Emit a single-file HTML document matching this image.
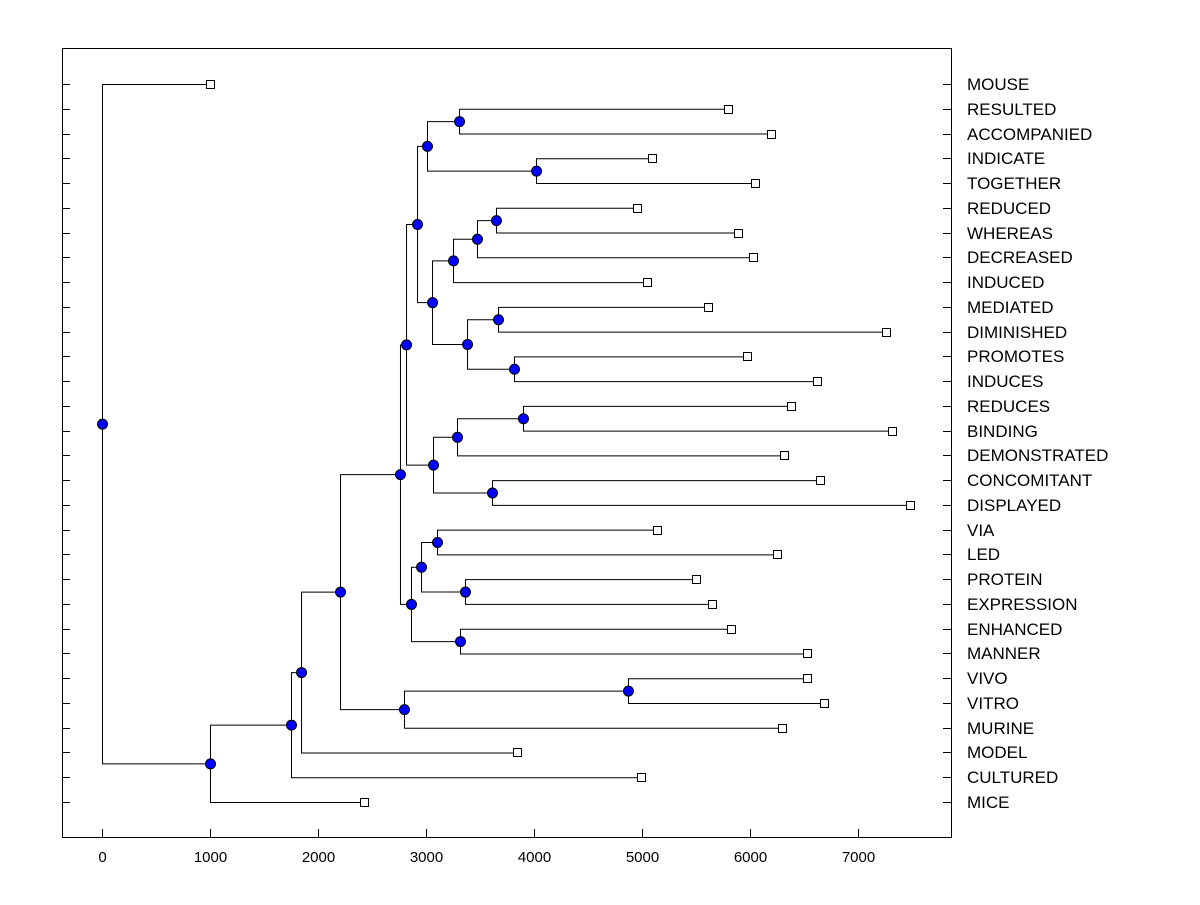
<!DOCTYPE html>
<html><head><meta charset="utf-8"><style>
body{margin:0;background:#fff}
svg text{font-family:"Liberation Sans",Arial,sans-serif;fill:#000}
</style></head><body>
<svg id="chart" width="1200" height="900" xmlns="http://www.w3.org/2000/svg">
<rect x="62.5" y="48.5" width="889" height="789" fill="none" stroke="#000"/>
<g id="g"></g>
</svg>
<script>
const leafNames = ["MOUSE","RESULTED","ACCOMPANIED","INDICATE","TOGETHER","REDUCED","WHEREAS","DECREASED","INDUCED","MEDIATED","DIMINISHED","PROMOTES","INDUCES","REDUCES","BINDING","DEMONSTRATED","CONCOMITANT","DISPLAYED","VIA","LED","PROTEIN","EXPRESSION","ENHANCED","MANNER","VIVO","VITRO","MURINE","MODEL","CULTURED","MICE"];
const leafValues = [1000,5796,6194,5093,6046,4954,5889,6028,5046,5611,7259,5972,6620,6380,7315,6315,6648,7481,5139,6250,5500,5648,5824,6528,6528,6685,6296,3843,4991,2426];
// internal nodes: [name, value, child1, child2]
const nodes = [
 ["N",3306,"RESULTED","ACCOMPANIED"],["O",4019,"INDICATE","TOGETHER"],["L",3009,"N","O"],
 ["S",3648,"REDUCED","WHEREAS"],["R",3472,"S","DECREASED"],["P",3250,"R","INDUCED"],
 ["T",3667,"MEDIATED","DIMINISHED"],["U",3815,"PROMOTES","INDUCES"],["Q",3380,"T","U"],
 ["M",3056,"P","Q"],["J",2917,"L","M"],
 ["X",3898,"REDUCES","BINDING"],["V",3287,"X","DEMONSTRATED"],["W",3611,"CONCOMITANT","DISPLAYED"],
 ["K",3065,"V","W"],["H",2815,"J","K"],
 ["AA",3102,"VIA","LED"],["AB",3361,"PROTEIN","EXPRESSION"],["Y",2954,"AA","AB"],
 ["Z",3315,"ENHANCED","MANNER"],["I",2861,"Y","Z"],["E",2759,"H","I"],
 ["G",4870,"VIVO","VITRO"],["F",2796,"G","MURINE"],["D",2204,"E","F"],
 ["C",1843,"D","MODEL"],["B",1750,"C","CULTURED"],["A",1000,"B","MICE"],
 ["ROOT",0,"MOUSE","A"]
];
const xTicks = [0,1000,2000,3000,4000,5000,6000,7000];

const NS="http://www.w3.org/2000/svg", g=document.getElementById('g');
const xs = v => 102 + v*0.108;
const ys = i => 84 + i*(802-84)/29;
function mk(t,a){const e=document.createElementNS(NS,t);for(const k in a)e.setAttribute(k,a[k]);g.appendChild(e);return e;}
const pos={};
leafNames.forEach((n,i)=>{pos[n]={x:xs(leafValues[i]),y:ys(i)};});
nodes.forEach(nd=>{const a=pos[nd[2]],b=pos[nd[3]];pos[nd[0]]={x:xs(nd[1]),y:(a.y+b.y)/2};});
nodes.forEach(nd=>{
 const p=pos[nd[0]],a=pos[nd[2]],b=pos[nd[3]];
 const l=mk('path',{d:`M${a.x},${a.y+.5}H${p.x+.5}V${b.y+.5}H${b.x}`,fill:'none',stroke:'#000','stroke-width':1});
 
 
});
leafNames.forEach((n,i)=>{
 const p=pos[n], y=Math.round(p.y);
 const r=mk('rect',{x:Math.round(p.x)-3.5,y:y-3.5,width:8,height:8,fill:'#fff',stroke:'#000'});
 
 
 const lt=mk('line',{x1:62,x2:70,y1:y+.5,y2:y+.5,stroke:'#000'});
 
 
 const rt=mk('line',{x1:943,x2:951,y1:y+.5,y2:y+.5,stroke:'#000'});
 
 
 const t=mk('text',{x:967,y:y+6,'font-size':17});
 t.textContent=n;
 
 
});
nodes.forEach(nd=>{
 const p=pos[nd[0]];
 const c=mk('circle',{cx:p.x+.5,cy:p.y+.5,r:5,fill:'#0000ff',stroke:'#000','stroke-width':1});
 
 
});
xTicks.forEach(v=>{
 const x=Math.round(xs(v))+.5;
 const tk=mk('line',{x1:x,x2:x,y1:829,y2:837,stroke:'#000'});
 
 
 const t=mk('text',{x:x,y:862,'font-size':15,'text-anchor':'middle'});
 t.textContent=v;
 
 
});
</script>
</body></html>
